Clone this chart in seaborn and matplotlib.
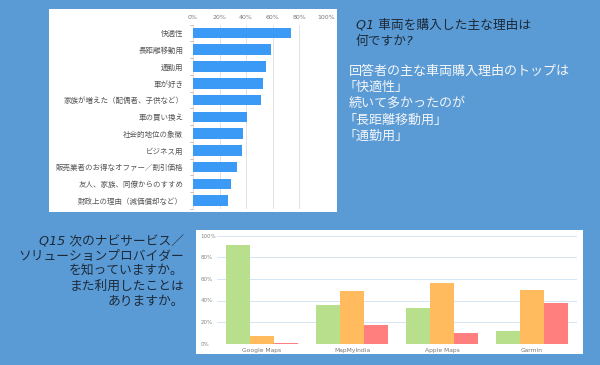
import numpy as np
import pandas as pd
import matplotlib
matplotlib.use("Agg")
import matplotlib.pyplot as plt
from matplotlib.patches import Rectangle
import seaborn as sns

# Q1: 車両購入理由 (%)
reasons = ['快適性', '長距離移動用', '通勤用', '車が好き', '家族が増えた（配偶者、子供など）',
           '車の買い換え', '社会的地位の象徴', 'ビジネス用', '販売業者のお得なオファー／割引価格',
           '友人、家族、同僚からのすすめ', '財政上の理由（減価償却など）']
reason_pct = [74, 59, 55, 53, 51, 41, 38, 37, 33, 29, 26]

# Q15: ナビサービスの認知・利用 (%)
providers = ['Google Maps', 'MapMyIndia', 'Apple Maps', 'Garmin']
series_names = ['系列1', '系列2', '系列3']
series_1 = [91, 35.5, 33.5, 12]
series_2 = [7.5, 49, 56, 50]
series_3 = [1, 17, 10, 38]

pct_ticks = [0, 20, 40, 60, 80, 100]

q1_title = ['Q1 車両を購入した主な理由は', '何ですか?']
q1_notes = ['回答者の主な車両購入理由のトップは', '「快適性」', '続いて多かったのが',
            '「長距離移動用」', '「通勤用」']
q15_title = ['Q15 次のナビサービス／', 'ソリューションプロバイダー', 'を知っていますか。',
             'また利用したことは', 'ありますか。']

BG = '#5b9bd5'
JP = ['DejaVu Sans', 'Noto Sans CJK JP']

sns.set_theme(style="white")
plt.rcParams['font.family'] = JP

W, H = 600, 365
fig = plt.figure(figsize=(W / 100, H / 100), dpi=100, facecolor=BG)


def px(x0, y0, x1, y1):
    return [x0 / W, 1 - y1 / H, (x1 - x0) / W, (y1 - y0) / H]


def white_box(x0, y0, x1, y1):
    r = px(x0, y0, x1, y1)
    fig.patches.append(Rectangle((r[0], r[1]), r[2], r[3], transform=fig.transFigure,
                                 facecolor='white', edgecolor='none', zorder=-5))


white_box(49, 9, 337, 212)
white_box(196, 230, 583, 354)

# --- top chart: horizontal bars
ax1 = fig.add_axes(px(193, 24.6, 325.7, 209))
df1 = pd.DataFrame({'reason': reasons, 'pct': reason_pct})
sns.barplot(data=df1, y='reason', x='pct', orient='h', color='#3a9af5',
            saturation=1, width=0.63, linewidth=0, ax=ax1)
ax1.set_xlim(0, 100)
ax1.set_xticks(pct_ticks)
ax1.set_xticklabels([f'{t}%' for t in pct_ticks])
ax1.xaxis.tick_top()
ax1.tick_params(axis='x', length=0, labelsize=4.5, labelcolor='#777777', pad=3)
ax1.tick_params(axis='y', which='major', length=0, labelsize=5.4, labelcolor='#555555', pad=7)
ax1.set_yticks(np.arange(-0.5, len(reasons), 1), minor=True)
ax1.tick_params(axis='y', which='minor', length=2.5, width=0.6, color='#d9a88a', left=True)
ax1.set_xlabel('')
ax1.set_ylabel('')
ax1.grid(axis='x', color='#dddddd', linewidth=0.6)
ax1.set_axisbelow(True)
ax1.set_facecolor('none')
for s in ax1.spines.values():
    s.set_visible(False)

# --- bottom chart: grouped bars
ax2 = fig.add_axes(px(217, 235.7, 577, 343.7))
df2 = pd.DataFrame({
    'provider': providers * 3,
    'series': [series_names[0]] * 4 + [series_names[1]] * 4 + [series_names[2]] * 4,
    'pct': series_1 + series_2 + series_3,
})
sns.barplot(data=df2, x='provider', y='pct', hue='series',
            palette=['#b8df8c', '#ffbb5e', '#ff7f7f'], saturation=1,
            width=0.8, linewidth=0, legend=False, ax=ax2)
ax2.set_ylim(0, 100)
ax2.set_yticks(pct_ticks)
ax2.set_yticklabels([f'{t}%' for t in pct_ticks], ha='left')
ax2.tick_params(axis='y', length=0, labelsize=4, labelcolor='#888888', pad=12)
ax2.tick_params(axis='x', length=0, labelsize=4.3, labelcolor='#777777', pad=3)
ax2.set_xlabel('')
ax2.set_ylabel('')
ax2.grid(axis='y', color='#d6e6f5', linewidth=0.7)
ax2.set_axisbelow(True)
ax2.set_facecolor('none')
for s in ax2.spines.values():
    s.set_visible(False)

# --- texts
for i, line in enumerate(q1_title):
    fig.text(356 / W, 1 - (25 + i * 16) / H, line, fontsize=9.2, style='italic',
             color='#1c2a3a', va='center', ha='left', family=JP)

for i, line in enumerate(q1_notes):
    x = 349 if not line.startswith('「') else 344
    fig.text(x / W, 1 - (71 + i * 16.3) / H, line, fontsize=9.4,
             color='#f4f6f8', va='center', ha='left', family=JP)

for i, line in enumerate(q15_title):
    fig.text(184 / W, 1 - (242 + i * 14.8) / H, line, fontsize=9.2, style='italic',
             color='#1c2a3a', va='center', ha='right', family=JP)

fig.savefig('out.png', dpi=100, facecolor=BG)
